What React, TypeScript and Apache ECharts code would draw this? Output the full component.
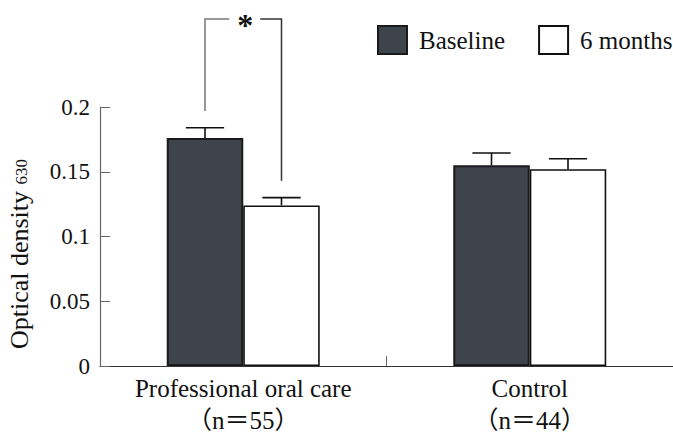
import React, { useEffect, useRef } from "react";
import * as echarts from "echarts";

// Groups on the x axis (two-line labels)
const categories = ["Professional oral care\n（n＝55）", "Control\n（n＝44）"];
const seriesNames = ["Baseline", "6 months"];

// Mean optical density and upper error (SD) per group
const baselineValues = [0.176, 0.155];
const baselineErrors = [0.008, 0.0095];
const sixMonthValues = [0.124, 0.152];
const sixMonthErrors = [0.006, 0.008];

// Y axis ticks
const yTicks = [0, 0.05, 0.1, 0.15, 0.2];

// Significance bracket for the first group: [category, bracket top, left foot, right foot]
const significance = [[0, 0.268, 0.197, 0.143]];
const significanceMark = "*";

const SERIF = "Liberation Serif, Noto Sans CJK JP, serif";
const BAR_FRACTION = 0.267;

function errorSeries(name: string, values: number[], errors: number[], side: number) {
  return {
    type: "custom",
    name,
    z: 5,
    clip: false,
    silent: true,
    data: values.map((v, i) => [i, v, errors[i]]),
    renderItem: (params: any, api: any) => {
      const idx = api.value(0);
      const v = api.value(1);
      const e = api.value(2);
      const catW = api.size([1, 0])[0];
      const bw = catW * BAR_FRACTION;
      const base = api.coord([idx, v]);
      const top = api.coord([idx, v + e]);
      const x = base[0] + (side * bw) / 2;
      const cap = bw * 0.25;
      const style = { stroke: "#111", lineWidth: 1.6, fill: null };
      return {
        type: "group",
        children: [
          { type: "line", shape: { x1: x, y1: base[1], x2: x, y2: top[1] }, style },
          { type: "line", shape: { x1: x - cap, y1: top[1], x2: x + cap, y2: top[1] }, style },
        ],
      };
    },
  };
}

export default function App() {
  const ref = useRef<HTMLDivElement>(null);

  useEffect(() => {
    if (!ref.current) return;
    const chart = echarts.init(ref.current, null, { renderer: "svg" });
    chart.setOption({
      animation: false,
      backgroundColor: "#ffffff",
      grid: { left: 100, right: -3, top: 107, bottom: 61, containLabel: false },
      legend: {
        data: seriesNames,
        left: 377,
        top: 25,
        width: 400,
        padding: 0,
        itemWidth: 29,
        itemHeight: 28,
        itemGap: 33,
        icon: "rect",
        textStyle: {
          fontFamily: SERIF,
          fontSize: 25,
          color: "#111",
          padding: [0, 0, 0, 7],
        },
      },
      xAxis: {
        type: "category",
        data: categories,
        axisLine: { show: true, lineStyle: { color: "#333", width: 1.2 } },
        axisTick: { show: true, inside: true, length: 10, lineStyle: { color: "#666" } },
        axisLabel: {
          fontFamily: SERIF,
          fontSize: 25,
          color: "#111",
          lineHeight: 32,
          margin: 6,
          interval: 0,
        },
        splitLine: { show: false },
      },
      yAxis: {
        type: "value",
        min: yTicks[0],
        max: yTicks[yTicks.length - 1],
        interval: yTicks[1] - yTicks[0],
        axisLine: { show: true, lineStyle: { color: "#666", width: 1.2 } },
        axisTick: { show: true, inside: true, length: 10, lineStyle: { color: "#666" } },
        axisLabel: {
          fontFamily: SERIF,
          fontSize: 23,
          color: "#111",
          margin: 10,
          formatter: (v: number) => String(v),
        },
        splitLine: { show: false },
      },
      graphic: [
        {
          type: "text",
          x: 19,
          y: 254,
          rotation: Math.PI / 2,
          style: {
            text: "{a|Optical density }{b|630}",
            textAlign: "center",
            textVerticalAlign: "middle",
            fill: "#111",
            rich: {
              a: { fontFamily: SERIF, fontSize: 26, lineHeight: 28, fill: "#111" },
              b: { fontFamily: SERIF, fontSize: 17, lineHeight: 28, fill: "#111", padding: [5, 0, 0, 0] },
            },
          },
        },
      ],
      series: [
        {
          type: "bar",
          name: seriesNames[0],
          data: baselineValues,
          barWidth: BAR_FRACTION * 100 + "%",
          barGap: "0%",
          itemStyle: { color: "#3e444c", borderColor: "#1a1a1a", borderWidth: 2 },
        },
        {
          type: "bar",
          name: seriesNames[1],
          data: sixMonthValues,
          barWidth: BAR_FRACTION * 100 + "%",
          barGap: "0%",
          itemStyle: { color: "#ffffff", borderColor: "#111", borderWidth: 1.6 },
        },
        errorSeries("Baseline SD", baselineValues, baselineErrors, -1),
        errorSeries("6 months SD", sixMonthValues, sixMonthErrors, 1),
        {
          type: "custom",
          name: "significance",
          z: 6,
          clip: false,
          silent: true,
          data: significance,
          renderItem: (params: any, api: any) => {
            const idx = api.value(0);
            const topPt = api.coord([idx, api.value(1)]);
            const yL = api.coord([idx, api.value(2)])[1];
            const yR = api.coord([idx, api.value(3)])[1];
            const catW = api.size([1, 0])[0];
            const bw = catW * BAR_FRACTION;
            const cx = topPt[0];
            const y = topPt[1];
            const xl = cx - bw / 2;
            const xr = cx + bw / 2;
            return {
              type: "group",
              children: [
                {
                  type: "polyline",
                  shape: { points: [[xl, yL], [xl, y], [cx - 14, y]] },
                  style: { stroke: "#777", lineWidth: 1.5, fill: null },
                },
                {
                  type: "polyline",
                  shape: { points: [[cx + 17, y], [xr, y], [xr, yR]] },
                  style: { stroke: "#333", lineWidth: 1.5, fill: null },
                },
                {
                  type: "text",
                  x: cx + 2,
                  y: y + 6,
                  style: {
                    text: significanceMark,
                    fontFamily: SERIF,
                    fontSize: 32,
                    fontWeight: "bold",
                    fill: "#111",
                    textAlign: "center",
                    textVerticalAlign: "middle",
                  },
                },
              ],
            };
          },
        },
      ],
    });
    return () => chart.dispose();
  }, []);

  return (
    <div
      ref={ref}
      style={{ position: "fixed", left: 0, top: 0, width: 673, height: 436, background: "#fff" }}
    />
  );
}
